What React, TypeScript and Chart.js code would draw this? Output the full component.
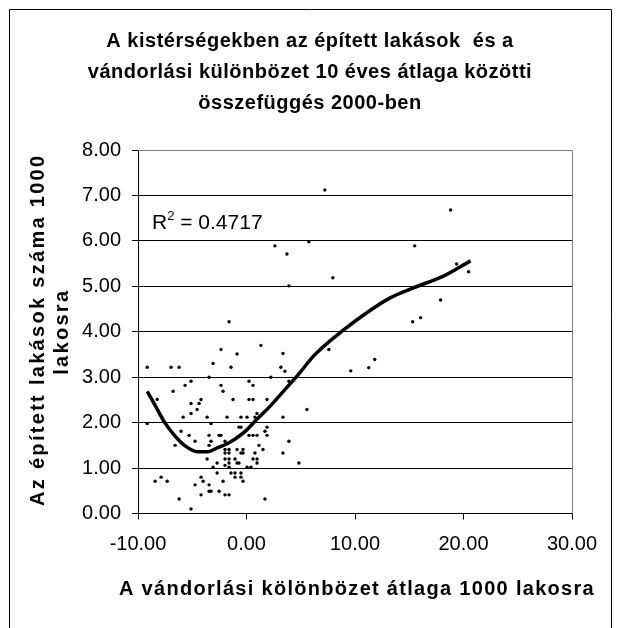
import React, { useEffect, useRef } from "react";
import { Chart, registerables } from "chart.js";

Chart.register(...registerables);

const titleLines = [
  "A kistérségekben az épített lakások  és a",
  "vándorlási különbözet 10 éves átlaga közötti",
  "összefüggés 2000-ben",
];
const xAxisTitle = "A vándorlási kölönbözet átlaga 1000 lakosra";
const yAxisTitleLines = ["Az épített lakások száma 1000", "lakosra"];
const r2Value = "0.4717";

const xTickValues = [-10, 0, 10, 20, 30];
const yTickValues = [0, 1, 2, 3, 4, 5, 6, 7, 8];

// scatter: migration difference (x) vs dwellings built (y)
const migrationX = [
  -9.15, -6.95, -6.21, -2.35, -0.87, -3.08, -1.43, -3.45, -5.11, -5.66,
  -2.35, -2.16, -6.76, -8.23, -1.24, -4.19, -4.37, -5.11, -4.55, -5.11,
  -5.84, -3.63, -1.79, -0.51, -9.15, -3.27, -0.69, 1.33, 3.36, 3.17,
  3.54, 2.25, 0.23, 0.6, 7.59, 0.23, 0.6, 1.89, 5.57, 0.97,
  0.05, 0.78, 3.36, 1.89, -6.03, -5.29, -3.45, -2.53, -2.35, -4.74,
  -3.27, -6.58, -3.45, -1.98, -0.87, -1.98, -1.61, -1.98, -1.61, -0.87,
  -0.51, -3.63, -1.98, -1.61, -1.06, -0.87, -2.71, -1.61, -1.98, -3.08,
  -1.61, -0.69, -2.71, -1.43, -1.06, -8.42, -7.87, -7.31, -4.19, -4.0,
  -2.16, -4.74, -3.45, -3.27, -3.45, -2.53, -4.19, -1.98, -1.61, -6.21,
  -5.11, -0.51, 1.7, 1.89, 0.23, 0.6, 0.97, 3.91, 1.15, 1.52,
  -0.32, -0.32, 0.78, 3.36, 0.6, 0.97, 0.97, 4.83, 0.05, 0.41,
  -0.51, -1.06, -0.51, -0.32, 1.7, 7.22, 2.62, 3.73, 5.75, 3.91,
  -1.61, 18.81, 15.5, 7.96, 19.37, 20.47, 17.89, 15.32, 16.05, 11.27,
  11.82, 9.61, 3.91,
];
const dwellingsY = [
  3.22, 3.22, 3.22, 3.61, 3.51, 3.3, 3.22, 3.0, 2.91, 2.82,
  2.82, 2.69, 2.69, 2.51, 2.51, 2.51, 2.42, 2.42, 2.29, 2.2,
  2.12, 2.12, 2.12, 2.12, 1.98, 1.98, 1.9, 3.7, 3.52, 3.22,
  3.13, 3.0, 2.91, 2.82, 3.61, 2.51, 2.51, 2.51, 2.29, 2.2,
  2.12, 2.12, 2.12, 1.9, 1.81, 1.72, 1.72, 1.72, 1.72, 1.59,
  1.59, 1.5, 1.5, 1.59, 1.68, 1.41, 1.41, 1.33, 1.33, 1.41,
  1.33, 1.2, 1.2, 1.2, 1.2, 1.11, 1.11, 1.11, 1.06, 1.02,
  1.02, 1.11, 0.89, 0.89, 0.89, 0.71, 0.8, 0.71, 0.8, 0.71,
  0.71, 0.63, 0.63, 0.49, 0.49, 0.49, 0.41, 0.41, 0.41, 0.32,
  0.1, 1.9, 1.81, 1.72, 1.72, 1.72, 1.72, 1.59, 1.5, 1.41,
  1.41, 1.33, 1.33, 1.33, 1.2, 1.2, 1.11, 1.11, 1.02, 1.02,
  0.89, 0.8, 0.8, 0.71, 0.32, 7.12, 5.89, 5.71, 5.98, 5.01,
  4.22, 6.68, 5.89, 5.19, 5.49, 5.32, 4.7, 4.22, 4.31, 3.21,
  3.39, 3.14, 2.91,
];

// trendline
const trendX = [
  -9.15, -8.33, -7.56, -6.64, -5.72, -4.49, -3.57, -2.65, -1.73, -0.2,
  1.03, 2.25, 3.48, 4.71, 6.24, 8.69, 11.15, 13.29, 15.44, 18.2, 20.65,
];
const trendY = [
  2.69, 2.34, 2.01, 1.72, 1.5, 1.36, 1.36, 1.45, 1.54, 1.79,
  2.09, 2.38, 2.71, 3.04, 3.48, 3.99, 4.43, 4.75, 4.97, 5.23, 5.56,
];

const FONT = "'Liberation Sans', Arial, sans-serif";

const textPlugin = {
  id: "textPlugin",
  afterDraw(chart: any) {
    const ctx = chart.ctx;
    const area = chart.chartArea;
    ctx.save();
    // outer frame
    ctx.strokeStyle = "#000";
    ctx.lineWidth = 1;
    ctx.beginPath();
    ctx.moveTo(9.5, 640);
    ctx.lineTo(9.5, 9.5);
    ctx.lineTo(611.5, 9.5);
    ctx.lineTo(611.5, 640);
    ctx.stroke();
    // plot frame (top / right) gray
    ctx.strokeStyle = "#808080";
    ctx.beginPath();
    ctx.moveTo(area.left, Math.round(area.top) + 0.5);
    ctx.lineTo(Math.round(area.right) + 0.5, Math.round(area.top) + 0.5);
    ctx.lineTo(Math.round(area.right) + 0.5, area.bottom);
    ctx.stroke();

    ctx.fillStyle = "#000";
    ctx.textAlign = "center";
    ctx.textBaseline = "middle";
    ctx.font = `bold 20px ${FONT}`;
    (ctx as any).letterSpacing = "0.5px";
    const tY = [41, 72, 103];
    titleLines.forEach((l, i) => ctx.fillText(l, 310, tY[i]));

    // x axis title
    ctx.font = `bold 20px ${FONT}`;
    (ctx as any).letterSpacing = "1.3px";
    ctx.fillText(xAxisTitle, (area.left + area.right) / 2 + 2, 589);

    // y axis title
    (ctx as any).letterSpacing = "2.3px";
    const cy = (area.top + area.bottom) / 2;
    ctx.save();
    ctx.translate(38, cy - 2);
    ctx.rotate(-Math.PI / 2);
    ctx.fillText(yAxisTitleLines[0], 0, 0);
    ctx.restore();
    ctx.save();
    ctx.translate(62, cy);
    ctx.rotate(-Math.PI / 2);
    ctx.fillText(yAxisTitleLines[1], 0, 0);
    ctx.restore();

    // R² label
    (ctx as any).letterSpacing = "0px";
    ctx.textAlign = "left";
    ctx.font = `21px ${FONT}`;
    const rx = 152;
    const ry = 223;
    ctx.fillText("R", rx, ry);
    const w1 = ctx.measureText("R").width;
    ctx.font = `13px ${FONT}`;
    ctx.fillText("2", rx + w1, ry - 7);
    const w2 = ctx.measureText("2").width;
    ctx.font = `21px ${FONT}`;
    ctx.fillText(" = " + r2Value, rx + w1 + w2, ry);
    ctx.restore();
  },
};

export default function App() {
  const ref = useRef<HTMLCanvasElement>(null);
  useEffect(() => {
    document.body.style.margin = "0";
    const scatterPts = migrationX.map((x, i) => ({ x, y: dwellingsY[i] }));
    const trendPts = trendX.map((x, i) => ({ x, y: trendY[i] }));
    const chart = new Chart(ref.current as HTMLCanvasElement, {
      type: "scatter",
      data: {
        datasets: [
          {
            label: "trend",
            data: trendPts,
            showLine: true,
            borderColor: "#000",
            borderWidth: 3.5,
            pointRadius: 0,
            tension: 0.4,
            cubicInterpolationMode: "monotone",
            order: 0,
          } as any,
          {
            label: "data",
            data: scatterPts,
            backgroundColor: "#000",
            borderColor: "#000",
            borderWidth: 0,
            pointRadius: 1.7,
            order: 1,
          },
        ],
      },
      options: {
        animation: false,
        responsive: false,
        devicePixelRatio: 1,
        layout: { padding: { left: 70, right: 49, top: 150, bottom: 74 } },
        plugins: {
          legend: { display: false },
          title: { display: false },
          tooltip: { enabled: false },
        },
        scales: {
          x: {
            type: "linear",
            min: -10,
            max: 30,
            afterBuildTicks: (s: any) => {
              s.ticks = xTickValues.map((v) => ({ value: v }));
            },
            afterFit: (s: any) => {
              s.height = 40.5;
            },
            ticks: {
              color: "#000",
              font: { family: FONT, size: 20 },
              padding: 13,
              maxRotation: 0,
              callback: (v: any) => Number(v).toFixed(2),
            },
            grid: {
              drawOnChartArea: false,
              drawTicks: true,
              tickLength: 6,
              color: "#000",
              tickColor: "#000",
            },
            border: { display: true, color: "#000", width: 1 },
          },
          y: {
            type: "linear",
            min: 0,
            max: 8,
            afterBuildTicks: (s: any) => {
              s.ticks = yTickValues.map((v) => ({ value: v }));
            },
            afterFit: (s: any) => {
              s.width = 68;
            },
            ticks: {
              color: "#000",
              font: { family: FONT, size: 20 },
              padding: 11,
              callback: (v: any) => Number(v).toFixed(2),
            },
            grid: {
              drawOnChartArea: true,
              drawTicks: true,
              tickLength: 6,
              color: (c: any) => (c.tick && c.tick.value === 8 ? "#808080" : "#000"),
              tickColor: "#000",
            },
            border: { display: true, color: "#000", width: 1 },
          },
        },
      },
      plugins: [textPlugin],
    });
    return () => chart.destroy();
  }, []);
  return <canvas ref={ref} width={621} height={628} style={{ display: "block" }} />;
}
